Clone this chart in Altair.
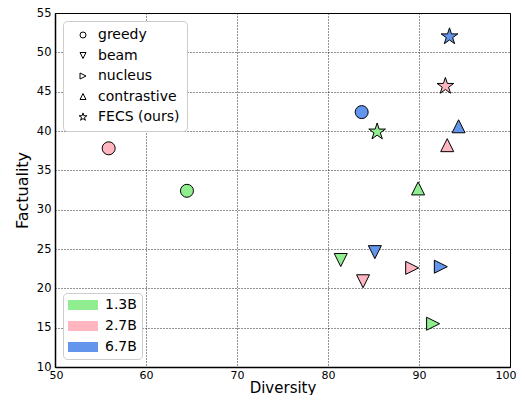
import altair as alt
import pandas as pd

methods = ["greedy", "greedy", "greedy",
           "beam", "beam", "beam",
           "nucleus", "nucleus", "nucleus",
           "contrastive", "contrastive", "contrastive",
           "FECS (ours)", "FECS (ours)", "FECS (ours)"]
sizes = ["1.3B", "2.7B", "6.7B"] * 5
diversity = [64.5, 55.9, 83.7,
             81.4, 83.85, 85.15,
             91.55, 89.25, 92.4,
             89.9, 93.1, 94.35,
             85.4, 92.9, 93.35]
factuality = [32.4, 37.8, 42.4,
              23.6, 20.9, 24.6,
              15.5, 22.6, 22.75,
              32.7, 38.2, 40.6,
              39.9, 45.7, 52.0]

method_order = ["greedy", "beam", "nucleus", "contrastive", "FECS (ours)"]
size_order = ["1.3B", "2.7B", "6.7B"]
size_colors = ["#90EE90", "#FFB6C1", "#6495ED"]

STAR = ("M0,-1.35L0.303,-0.417L1.284,-0.417L0.49,0.159L0.794,1.092L0,0.516"
        "L-0.794,1.092L-0.49,0.159L-1.284,-0.417L-0.303,-0.417Z")
shape_paths = ["circle",
               "M0,1L1,-1L-1,-1Z",
               "M1,0L-1,-1L-1,1Z",
               "M0,-1L1,1L-1,1Z",
               STAR]

df = pd.DataFrame({"method": methods, "size": sizes,
                   "Diversity": diversity, "Factuality": factuality})

FONT = "DejaVu Sans"

chart = alt.Chart(df).mark_point(
    filled=True, size=169, stroke="black", strokeWidth=1, opacity=1
).encode(
    x=alt.X("Diversity:Q",
            scale=alt.Scale(domain=[50, 100], nice=False, zero=False),
            axis=alt.Axis(values=[50, 60, 70, 80, 90, 100], title="Diversity",
                          labelFlush=True, labelFlushOffset=6)),
    y=alt.Y("Factuality:Q",
            scale=alt.Scale(domain=[10, 55], nice=False, zero=False),
            axis=alt.Axis(values=list(range(10, 56, 5)), title="Factuality",
                          labelFlush=False)),
    color=alt.Color("size:N",
                    scale=alt.Scale(domain=size_order, range=size_colors),
                    legend=alt.Legend(orient="bottom-left", title=None,
                                      symbolType="M-3,-1H3V1H-3Z", symbolSize=100,
                                      symbolStrokeWidth=0, symbolOffset=8,
                                      labelOffset=15, padding=5, rowPadding=7,
                                      offset=8, labelFontSize=14, labelFont=FONT,
                                      labelColor="black",
                                      strokeColor="#cccccc", fillColor="white",
                                      cornerRadius=4)),
    shape=alt.Shape("method:N",
                    scale=alt.Scale(domain=method_order, range=shape_paths),
                    legend=alt.Legend(orient="top-left", title=None,
                                      symbolSize=36, symbolFillColor="white",
                                      symbolStrokeColor="black", symbolStrokeWidth=1,
                                      symbolOffset=6, labelOffset=8, padding=7,
                                      rowPadding=6.5, offset=8, labelFontSize=14,
                                      labelFont=FONT, labelColor="black",
                                      strokeColor="#cccccc", fillColor="white",
                                      cornerRadius=4)),
).properties(
    width=455, height=354,
    autosize=alt.AutoSizeParams(type="none"),
    padding={"left": 47, "top": 5, "right": 7, "bottom": 28},
).configure_view(
    stroke="black", strokeWidth=1
).configure_axis(
    grid=True, gridColor="black", gridDash=[1, 2], gridOpacity=0.85, gridWidth=1,
    ticks=False, labelFont=FONT,
    labelColor="black", titleFont=FONT, titleFontWeight="normal",
    titleColor="black", domainColor="black", domainWidth=1.5,
).configure_axisX(
    labelPadding=2, labelFontSize=11, titleFontSize=15, titlePadding=0
).configure_axisY(
    labelPadding=4, labelFontSize=11.5, titleFontSize=16, titlePadding=6
)

chart.save("out.html", embed_options={"renderer": "svg", "actions": False})
